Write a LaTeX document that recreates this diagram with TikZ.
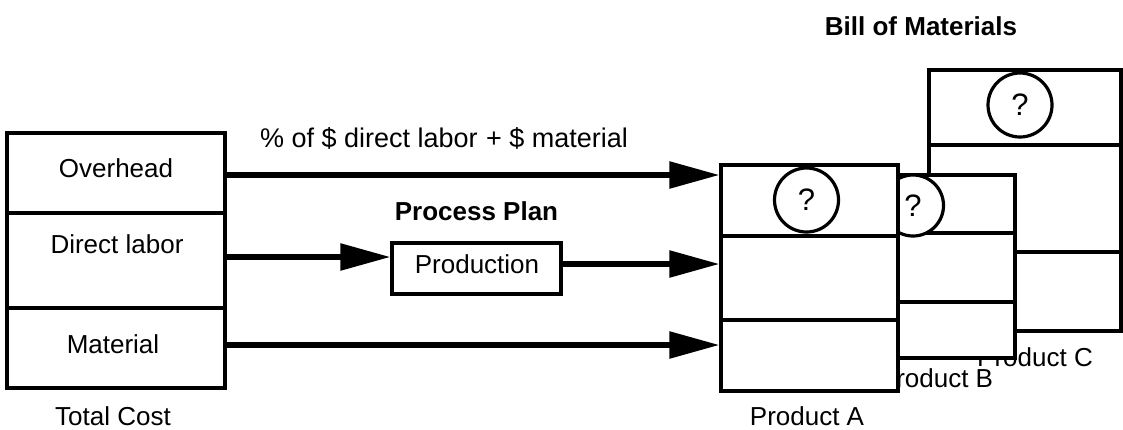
\documentclass[tikz,border=0pt]{standalone}
\usepackage{fontspec}
\setmainfont{Liberation Sans}
\usetikzlibrary{arrows.meta}
\begin{document}
\begin{tikzpicture}[x=1pt,y=-1pt,
  box/.style={draw, line width=3.2pt, fill=white, inner sep=0pt},
  txt/.style={font=\fontsize{26}{30}\selectfont, inner sep=0pt, anchor=base},
  btxt/.style={font=\fontsize{26}{30}\selectfont\bfseries, inner sep=0pt, anchor=base},
  qmark/.style={circle, draw, line width=3.2pt, fill=white, inner sep=0pt,
    font=\fontsize{31}{34}\selectfont},
  flow/.style={line width=5.5pt, -{Triangle[length=50pt,width=26pt]}}
]
\useasboundingbox (0,0) rectangle (1123,429);

% Total cost stack
\node[box, minimum width=218pt, minimum height=80pt] (tcO) at (116,173) {};
\node[box, minimum width=218pt, minimum height=95pt] (tcD) at (116,260.5) {};
\node[box, minimum width=218pt, minimum height=80pt] (tcM) at (116,348) {};
\node[txt] (tOver) at (116,177) {Overhead};
\node[txt] (tDir) at (117,253) {Direct labor};
\node[txt] (tMat) at (113,353) {Material};
\node[txt] (tTot) at (113,425) {Total Cost};

% Product C (rearmost)
\node[box, minimum width=192pt, minimum height=75pt] (pc1) at (1025,107.5) {};
\node[box, minimum width=192pt, minimum height=107pt] (pc2) at (1025,198.5) {};
\node[box, minimum width=192pt, minimum height=79pt] (pc3) at (1025,291.5) {};
\node[qmark, minimum size=64pt] (qc) at (1020,105) {?};
\node[txt] (tPC) at (1035,366) {Product C};

% Product B
\node[box, minimum width=185pt, minimum height=58pt] (pb1) at (922.5,204) {};
\node[box, minimum width=185pt, minimum height=69pt] (pb2) at (922.5,267.5) {};
\node[box, minimum width=185pt, minimum height=56pt] (pb3) at (922.5,330) {};
\node[qmark, minimum size=61pt] (qb) at (913,205.5) {?};
\node[txt] (tPB) at (936,387) {Product B};

% Product A (front)
\node[box, minimum width=177pt, minimum height=71pt] (pa1) at (809.5,200.5) {};
\node[box, minimum width=177pt, minimum height=84pt] (pa2) at (809.5,278) {};
\node[box, minimum width=177pt, minimum height=71pt] (pa3) at (809.5,355.5) {};
\node[qmark, minimum size=64pt] (qa) at (806.5,200) {?};
\node[txt] (tPA) at (807,425) {Product A};

% Process plan
\node[box, minimum width=169pt, minimum height=51pt] (prod) at (476.5,268.5) {};
\node[txt] (tProd) at (477,273) {Production};
\node[btxt] (tPP) at (476.5,220) {Process Plan};
\node[btxt] (tBOM) at (921,35) {Bill of Materials};
\node[txt, font=\fontsize{27}{30}\selectfont] (tPct) at (444,147)
  {\% of \$ direct labor\hspace{1pt} + \$ material};

% Cost flows
\draw[flow] ([yshift=-2pt]tcO.east) -- ([yshift=-2pt]tcO.east -| pa1.west);
\draw[flow] ([yshift=3.5pt]tcD.east) -- ([yshift=3.5pt]tcD.east -| prod.west);
\draw[flow] ([yshift=4.5pt]prod.east) -- ([yshift=4.5pt]prod.east -| pa2.west);
\draw[flow] ([yshift=3pt]tcM.east) -- ([yshift=3pt]tcM.east -| pa3.west);
\end{tikzpicture}
\end{document}
